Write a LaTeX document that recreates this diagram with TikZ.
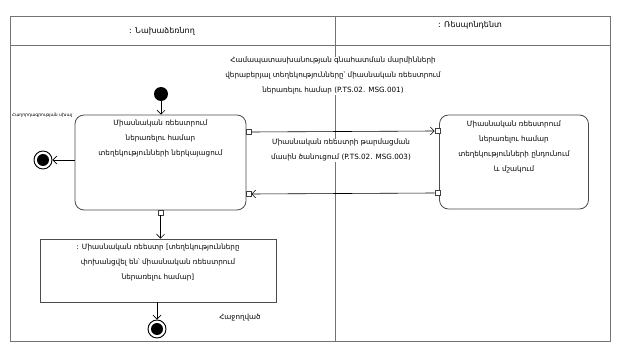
\documentclass[tikz,border=0pt]{standalone}
\usepackage{fontspec}
\setmainfont{DejaVu Sans}
\usetikzlibrary{arrows.meta}
\begin{document}
\begin{tikzpicture}[x=1pt,y=-1pt,
  frame/.style={draw=black!55, line width=0.9pt},
  actbox/.style={draw=black!70, line width=0.8pt, rounded corners=9pt, inner sep=0pt},
  objbox/.style={draw=black!70, line width=0.8pt, inner sep=0pt},
  pin/.style={draw=black!75, fill=white, line width=0.6pt, minimum size=5pt, inner sep=0pt},
  flow/.style={draw=black, line width=0.6pt, -{Straight Barb[length=4pt,width=8pt]}},
  txt/.style={font=\fontsize{7.2}{15}\selectfont, align=center, inner sep=1pt},
  lbl/.style={txt, fill=white},
  hdr/.style={font=\fontsize{8}{10}\selectfont, inner sep=1pt},
  startnode/.style={circle, fill=black, minimum size=14pt, inner sep=0pt},
  endnode/.style={circle, draw=black, line width=0.9pt, minimum size=18pt, inner sep=0pt},
]
\useasboundingbox (0,0) rectangle (621,358);
\fill[white] (0,0) rectangle (621,358);

% frame and swimlanes
\draw[frame] (10,16) rectangle (610,341);
\draw[frame] (10,45) -- (610,45);
\draw[frame] (335,16) -- (335,341);
\node[hdr] (h1) at (162,31) {: Նախաձեռնող};
\node[hdr] (h2) at (470,25) {: Ռեսպոնդենտ};

% top label
\node[lbl] (toplbl) at (333,76) {Համապատասխանության գնահատման մարմինների\\վերաբերյալ տեղեկությունները՝ միասնական ռեեստրում\\ներառելու համար (P.TS.02. MSG.001)};

% initial node
\node[startnode] (init) at (161,94) {};

% activity 1
\node[actbox, minimum width=171pt, minimum height=95pt] (b1) at (160.5,162.5) {};
\node[txt, anchor=north] (b1t) at ([yshift=-4pt]b1.north) {Միասնական ռեեստրում\\ներառելու համար\\տեղեկությունների ներկայացում};

% activity 2
\node[actbox, minimum width=149pt, minimum height=94pt] (b2) at (514,162) {};
\node[txt, anchor=north] (b2t) at ([yshift=-5pt]b2.north) {Միասնական ռեեստրում\\ներառելու համար\\տեղեկությունների ընդունում\\և մշակում};

% object node
\node[objbox, minimum width=236pt, minimum height=63pt] (b3) at (158,270.5) {};
\node[txt, anchor=north] (b3t) at ([yshift=-4pt]b3.north) {: Միասնական ռեեստր [տեղեկությունները\\փոխանցվել են՝ միասնական ռեեստրում\\ներառելու համար]};

% final nodes
\node[endnode] (finL) at (43,160) {};
\fill (finL.center) circle (6pt);
\node[font=\fontsize{4.5}{5}\selectfont, inner sep=0pt] (finLl) at (42,115) {Հաղորդագրության սխալ};

\node[endnode] (finB) at (157,329) {};
\fill (finB.center) circle (6pt);
\node[txt] (finBl) at (240,318) {Հաջողված};

% pins
\node[pin] (p1) at (248.5,132) {};
\node[pin] (p2) at (437.5,131) {};
\node[pin] (p3) at (437.5,193) {};
\node[pin] (p4) at (248.5,194) {};
\node[pin] (p5) at (160.5,212.5) {};

% middle label
\node[lbl] (midlbl) at (341,150.5) {Միասնական ռեեստրի թարմացման\\մասին ծանուցում (P.TS.02. MSG.003)};

% flows
\draw[flow] (init) -- (init |- b1.north);
\draw[flow] (b1.west |- finL) -- (finL);
\draw[flow] (p1.east) -- (p2.west);
\draw[flow] (p3.west) -- (p4.east);
\draw[flow] (p5.south) -- (p5.south |- b3.north);
\draw[flow] (finB |- b3.south) -- (finB);
\end{tikzpicture}
\end{document}
